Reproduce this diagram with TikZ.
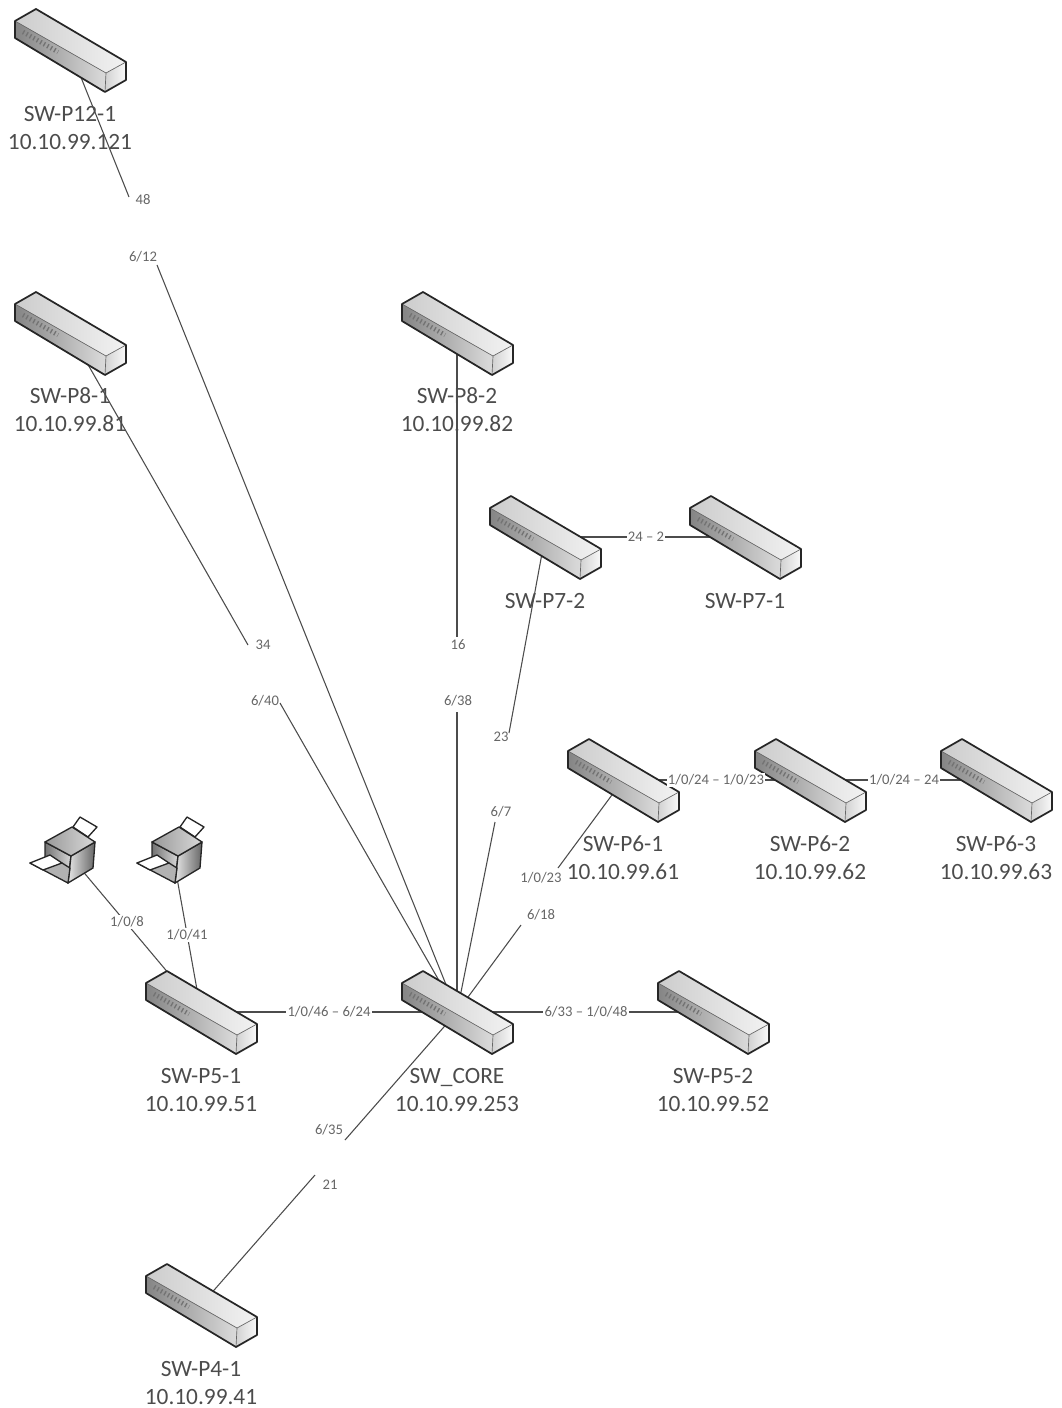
\documentclass[tikz,border=0pt]{standalone}
\usepackage{fontspec}
\setmainfont{Carlito}
\usepackage{tikz}
\usetikzlibrary{positioning}

\begin{document}
\begin{tikzpicture}[
  x=0.75pt, y=-0.75pt,
  link/.style={draw=black!70, line width=0.8pt},
  swlabel/.style={align=center, text=black!70, font=\fontsize{17.5}{21}\selectfont, inner sep=0pt},
  portlabel/.style={text=black!60, font=\fontsize{11}{12}\selectfont, fill=white, inner sep=1pt},
  endlabel/.style={text=black!60, font=\fontsize{11}{12}\selectfont, inner sep=1pt},
  switchbox/.pic={
    \coordinate (-c) at (0,0);
    \shade[left color=black!20, right color=black!5] (-34,-41) -- (-55,-29) -- (36,23) -- (56,12) -- cycle;
    \shade[left color=black!48, right color=black!14] (-55,-29) -- (-55,-12) -- (35,42) -- (36,23) -- cycle;
    \shade[left color=black!18, right color=black!2] (36,23) -- (35,42) -- (56,30) -- (56,12) -- cycle;
    \draw[black!55, line width=3.5pt, dash pattern=on 1pt off 2pt] (-47,-18) -- (-12,2);
    \draw[black!60, line width=0.5pt] (-55,-29) -- (36,23) -- (56,12) (36,23) -- (35,42);
    \draw[black!85, line width=1.3pt, line join=round] (-34,-41) -- (-55,-29) -- (-55,-12) -- (35,42) -- (56,30) -- (56,12) -- cycle;
  },
  printerbox/.pic={
    \coordinate (-c) at (0,0);
    \draw[black!85, fill=white, line width=1pt, line join=round] (8,-23) -- (15,-33) -- (32,-23) -- (23,-13) -- cycle;
    \shade[left color=black!55, right color=black!15, draw=black!85, line width=1pt, line join=round] (-20,-8) -- (-20,15) -- (3,33) -- (6,6) -- cycle;
    \shade[left color=black!10, right color=black!60, draw=black!85, line width=1pt, line join=round] (6,6) -- (3,33) -- (28,18) -- (30,-8) -- cycle;
    \shade[left color=black!40, right color=black!15, draw=black!85, line width=1pt, line join=round] (-20,-8) -- (7,-23) -- (30,-8) -- (6,6) -- cycle;
    \draw[black!85, fill=black!30, line width=1pt, line join=round] (-35,13) -- (3,33) -- (5,18) -- (-3,13) -- cycle;
    \draw[black!85, fill=white, line width=1pt, line join=round] (-35,13) -- (-15,5) -- (-3,13) -- (-22,20) -- cycle;
  }
]
\useasboundingbox (0,0) rectangle (1062,1408);

% free ends of the broken links
\coordinate (p12end) at (129,197);
\coordinate (core12end) at (157,265);
\coordinate (p81end) at (248,645);
\coordinate (core81end) at (280,703);
\coordinate (p82end) at (457,637);
\coordinate (core82end) at (457,712);
\coordinate (p72end) at (509,733);
\coordinate (core72end) at (495,822);
\coordinate (p61end) at (558,868);
\coordinate (core61end) at (521,925);
\coordinate (p41end) at (315,1175);
\coordinate (core41end) at (345,1140);

% switch and printer anchors, links go underneath
\coordinate (core) at (457,1012);
\coordinate (p121) at (70,50);
\coordinate (p81) at (70,333);
\coordinate (p82) at (457,333);
\coordinate (p72) at (545,537);
\coordinate (p71) at (745,537);
\coordinate (p61) at (623,780);
\coordinate (p62) at (810,780);
\coordinate (p63) at (996,780);
\coordinate (p51) at (201,1012);
\coordinate (p52) at (713,1012);
\coordinate (p41) at (201,1305);
\coordinate (pr1) at (65,850);
\coordinate (pr2) at (172,850);

\draw[link] (p121) -- (p12end);
\draw[link] (core) -- (core12end);
\draw[link] (p81) -- (p81end);
\draw[link] (core) -- (core81end);
\draw[link] (p82) -- (p82end);
\draw[link] (core) -- (core82end);
\draw[link] (p72) -- (p72end);
\draw[link] (core) -- (core72end);
\draw[link] (p61) -- (p61end);
\draw[link] (core) -- (core61end);
\draw[link] (p41) -- (p41end);
\draw[link] (core) -- (core41end);
\draw[link] (p72) -- (p71);
\draw[link] (p61) -- (p62);
\draw[link] (p62) -- (p63);
\draw[link] (p51) -- (core);
\draw[link] (core) -- (p52);
\draw[link] (pr1) -- (p51);
\draw[link] (pr2) -- (p51);

\pic at (core) {switchbox};
\pic at (p121) {switchbox};
\pic at (p81) {switchbox};
\pic at (p82) {switchbox};
\pic at (p72) {switchbox};
\pic at (p71) {switchbox};
\pic at (p61) {switchbox};
\pic at (p62) {switchbox};
\pic at (p63) {switchbox};
\pic at (p51) {switchbox};
\pic at (p52) {switchbox};
\pic at (p41) {switchbox};
\pic at (pr1) {printerbox};
\pic at (pr2) {printerbox};

\node[swlabel] (l121) at (70,128) {SW-P12-1\\10.10.99.121};
\node[swlabel] (l81) at (70,410) {SW-P8-1\\10.10.99.81};
\node[swlabel] (l82) at (457,410) {SW-P8-2\\10.10.99.82};
\node[swlabel] (l72) at (545,601) {SW-P7-2};
\node[swlabel] (l71) at (745,601) {SW-P7-1};
\node[swlabel] (l61) at (623,858) {SW-P6-1\\10.10.99.61};
\node[swlabel] (l62) at (810,858) {SW-P6-2\\10.10.99.62};
\node[swlabel] (l63) at (996,858) {SW-P6-3\\10.10.99.63};
\node[swlabel] (l51) at (201,1090) {SW-P5-1\\10.10.99.51};
\node[swlabel] (lcore) at (457,1090) {SW\_CORE\\10.10.99.253};
\node[swlabel] (l52) at (713,1090) {SW-P5-2\\10.10.99.52};
\node[swlabel] (l41) at (201,1383) {SW-P4-1\\10.10.99.41};

\node[endlabel] (t48) at (143,200) {48};
\node[endlabel] (t612) at (143,257) {6/12};
\node[endlabel] (t34) at (263,645) {34};
\node[endlabel] (t640) at (265,701) {6/40};
\node[endlabel] (t16) at (458,645) {16};
\node[endlabel] (t638) at (458,701) {6/38};
\node[endlabel] (t23) at (501,737) {23};
\node[endlabel] (t67) at (501,812) {6/7};
\node[endlabel] (t1023) at (541,878) {1/0/23};
\node[endlabel] (t618) at (541,915) {6/18};
\node[endlabel] (t635) at (329,1130) {6/35};
\node[endlabel] (t21) at (330,1185) {21};

\node[portlabel] (t24) at (646,537) {24 -- 2};
\node[portlabel] (t10242) at (716,780) {1/0/24 -- 1/0/23};
\node[portlabel] (t10243) at (904,780) {1/0/24 -- 24};
\node[portlabel] (t1046) at (329,1012) {1/0/46 -- 6/24};
\node[portlabel] (t633) at (586,1012) {6/33 -- 1/0/48};
\node[portlabel] (t108) at (127,922) {1/0/8};
\node[portlabel] (t1041) at (187,935) {1/0/41};
\end{tikzpicture}
\end{document}
